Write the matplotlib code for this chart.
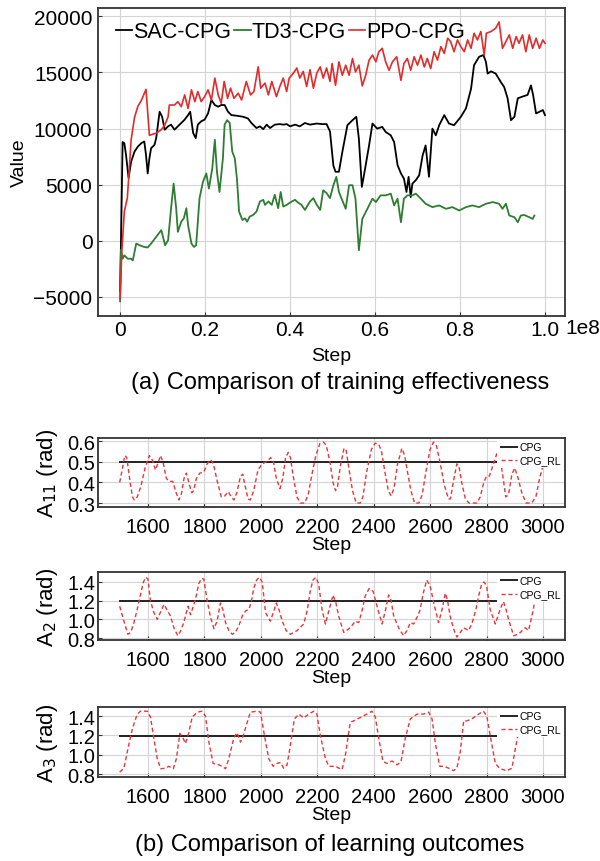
import numpy as np
import matplotlib
matplotlib.use('Agg')
import matplotlib.pyplot as plt

plt.rcParams['font.family'] = ['Liberation Sans', 'DejaVu Sans']

# ---- (a) training curves, step in units of 1e8 ----
sac_x = [0.0, 0.002, 0.006, 0.010, 0.014, 0.020, 0.026, 0.034, 0.042, 0.050, 0.057, 0.061, 0.065, 0.069,
         0.073, 0.081, 0.085, 0.093, 0.099, 0.105, 0.113, 0.120, 0.128, 0.136, 0.144, 0.152, 0.160, 0.165,
         0.172, 0.178, 0.183, 0.191, 0.199, 0.207, 0.215, 0.223, 0.231, 0.238, 0.246, 0.254, 0.262, 0.274,
         0.290, 0.301, 0.309, 0.321, 0.329, 0.337, 0.345, 0.353, 0.364, 0.376, 0.384, 0.392, 0.400, 0.412,
         0.423, 0.435, 0.447, 0.463, 0.475, 0.486, 0.494, 0.502, 0.507, 0.515, 0.523, 0.535, 0.547, 0.556,
         0.562, 0.569, 0.574, 0.586, 0.594, 0.605, 0.617, 0.625, 0.637, 0.645, 0.653, 0.661, 0.668, 0.674,
         0.679, 0.684, 0.688, 0.696, 0.704, 0.712, 0.719, 0.727, 0.735, 0.743, 0.751, 0.763, 0.774, 0.786,
         0.802, 0.814, 0.826, 0.833, 0.845, 0.855, 0.861, 0.865, 0.873, 0.884, 0.896, 0.904, 0.912, 0.920,
         0.928, 0.936, 0.947, 0.959, 0.967, 0.972, 0.979, 0.987, 0.995, 1.000]
sac_y = [-4500, -400, 8800, 8700, 7650, 5600, 7050, 7950, 8400, 8700, 8850, 7650, 6000, 7350,
         8250, 8550, 9150, 11500, 11050, 9900, 10200, 10350, 9900, 10200, 10500, 10800, 11200, 11500,
         9600, 9150, 10350, 10650, 10800, 11350, 12550, 12100, 11950, 12100, 12100, 11500, 11200, 11150,
         11050, 10900, 10500, 10050, 10200, 9950, 10350, 10050, 10350, 10400, 10350, 10400, 10200, 10350,
         10200, 10500, 10350, 10450, 10400, 10400, 9750, 6700, 6150, 6150, 7900, 10300, 10750, 11050,
         9100, 4800, 5850, 8500, 10450, 10000, 10150, 9700, 9400, 8800, 6750, 6000, 5550, 4350,
         5700, 3900, 5100, 5400, 5850, 7600, 8500, 5700, 10000, 9400, 10300, 11200, 10450, 10300,
         11050, 11800, 13550, 15650, 16400, 16550, 15950, 14900, 15100, 14900, 14150, 13700, 12700, 10750,
         11050, 12700, 12850, 13000, 13850, 13000, 11350, 11500, 11650, 11200]

td3_x = [0.0, 0.002, 0.006, 0.010, 0.018, 0.026, 0.030, 0.038, 0.046, 0.057, 0.065, 0.073, 0.085, 0.097,
         0.101, 0.106, 0.113, 0.120, 0.126, 0.132, 0.136, 0.144, 0.150, 0.156, 0.160, 0.168, 0.174, 0.179,
         0.187, 0.195, 0.203, 0.209, 0.217, 0.223, 0.228, 0.234, 0.242, 0.246, 0.252, 0.258, 0.264, 0.270,
         0.275, 0.280, 0.288, 0.294, 0.299, 0.305, 0.313, 0.321, 0.329, 0.337, 0.341, 0.349, 0.357, 0.364,
         0.372, 0.378, 0.384, 0.392, 0.404, 0.412, 0.419, 0.427, 0.435, 0.447, 0.455, 0.463, 0.471, 0.478,
         0.486, 0.494, 0.502, 0.509, 0.515, 0.523, 0.531, 0.539, 0.547, 0.554, 0.562, 0.570, 0.578, 0.586,
         0.594, 0.602, 0.613, 0.625, 0.637, 0.645, 0.653, 0.661, 0.668, 0.676, 0.688, 0.696, 0.708, 0.719,
         0.735, 0.751, 0.767, 0.782, 0.798, 0.814, 0.829, 0.845, 0.861, 0.877, 0.892, 0.900, 0.908, 0.916,
         0.928, 0.936, 0.943, 0.951, 0.963, 0.971, 0.975]
td3_y = [-5400, -800, -1600, -1300, -1600, -1600, -1750, -250, -400, -550, -600, -250, 350, 950,
         350, -400, 50, 2900, 5100, 2900, 800, 1700, 2000, 2900, 1400, -250, -550, -400,
         3800, 5250, 6000, 4650, 6450, 9000, 6150, 4350, 7350, 10350, 10750, 10500, 7950, 7350,
         5550, 2600, 1850, 2000, 1700, 2150, 2300, 2600, 3500, 3650, 3200, 3500, 3200, 4100,
         2900, 4350, 3050, 3200, 3500, 3650, 3400, 3200, 2750, 3500, 3800, 3200, 2750, 4500,
         4250, 3800, 4950, 5700, 4350, 3600, 2850, 4950, 4950, 3750, -850, 1950, 2550, 3150,
         3750, 3450, 4050, 4050, 4200, 3150, 3750, 1650, 3750, 4050, 4050, 4200, 3750, 3300,
         3000, 3150, 2850, 3000, 2700, 3000, 3150, 3000, 3300, 3450, 3300, 2850, 3300, 2250,
         2100, 1650, 2250, 2300, 2100, 1950, 2250]

ppo_x = [0.0, 0.004, 0.010, 0.017, 0.021, 0.026, 0.034, 0.042, 0.050, 0.061, 0.069, 0.085, 0.097, 0.105,
         0.113, 0.116, 0.128, 0.136, 0.144, 0.152, 0.160, 0.168, 0.176, 0.183, 0.191, 0.199, 0.207, 0.215,
         0.223, 0.231, 0.238, 0.245, 0.253, 0.260, 0.268, 0.278, 0.286, 0.297, 0.307, 0.315, 0.325, 0.331,
         0.341, 0.349, 0.357, 0.368, 0.376, 0.384, 0.392, 0.398, 0.408, 0.416, 0.423, 0.431, 0.439, 0.447,
         0.455, 0.463, 0.471, 0.478, 0.486, 0.494, 0.499, 0.507, 0.515, 0.523, 0.531, 0.539, 0.547, 0.554,
         0.562, 0.570, 0.578, 0.586, 0.594, 0.602, 0.609, 0.617, 0.625, 0.633, 0.641, 0.651, 0.661, 0.668,
         0.676, 0.684, 0.692, 0.700, 0.708, 0.716, 0.723, 0.731, 0.739, 0.747, 0.755, 0.763, 0.771, 0.778,
         0.786, 0.794, 0.802, 0.810, 0.818, 0.826, 0.833, 0.841, 0.849, 0.857, 0.862, 0.873, 0.884, 0.892,
         0.900, 0.908, 0.916, 0.924, 0.932, 0.939, 0.947, 0.955, 0.963, 0.971, 0.979, 0.987, 0.995, 1.000]
ppo_y = [-5200, -1000, 2600, 3800, 6000, 9000, 11000, 12000, 12500, 13500, 9400, 9600, 9900, 10300,
         11050, 12100, 12100, 12400, 11950, 13000, 11800, 13450, 12400, 13300, 12400, 12850, 13450, 12550,
         14500, 13000, 12250, 14200, 12700, 13600, 12700, 13150, 12550, 14200, 13000, 13300, 15500, 13600,
         14050, 13000, 14200, 12850, 13750, 14500, 13300, 14500, 14950, 15400, 14500, 15100, 13750, 15250,
         13600, 14950, 15500, 14500, 15400, 14200, 15800, 13850, 15950, 14750, 15650, 14750, 16250, 15050,
         15650, 13800, 14750, 16100, 16550, 15950, 16850, 17150, 15950, 15200, 15950, 16400, 14300, 15800,
         16250, 15200, 16400, 15650, 16550, 15500, 16250, 15350, 16850, 16100, 17300, 16700, 18050, 17750,
         16850, 17900, 17300, 16850, 17900, 17150, 18500, 17900, 18650, 16550, 18500, 18650, 18950, 19500,
         17150, 17750, 18350, 17150, 18200, 17600, 18350, 16850, 18350, 17150, 18050, 17150, 17900, 17600]

step_ticks = [0.0, 0.2, 0.4, 0.6, 0.8, 1.0]
step_labels = ['0', '0.2', '0.4', '0.6', '0.8', '1.0']
value_ticks = [-5000, 0, 5000, 10000, 15000, 20000]

# ---- (b) amplitude curves ----
a11_step = [1500, 1510, 1518, 1525, 1535, 1545, 1552, 1562, 1575, 1590, 1605, 1615, 1627, 1637, 1645, 1655,
            1665, 1675, 1688, 1700, 1710, 1718, 1728, 1736, 1745, 1755, 1762, 1772, 1784, 1798, 1810, 1822,
            1832, 1845, 1860, 1873, 1885, 1895, 1905, 1915, 1928, 1936, 1945, 1955, 1963, 1975, 1990, 2005,
            2020, 2035, 2045, 2055, 2068, 2078, 2088, 2097, 2105, 2115, 2128, 2140, 2155, 2168, 2180, 2195,
            2210, 2222, 2232, 2245, 2256, 2265, 2272, 2282, 2295, 2302, 2312, 2325, 2338, 2352, 2362, 2375,
            2392, 2405, 2418, 2428, 2440, 2452, 2462, 2472, 2485, 2500, 2510, 2520, 2532, 2545, 2560, 2572,
            2585, 2600, 2612, 2622, 2635, 2650, 2665, 2672, 2682, 2695, 2702, 2712, 2725, 2738, 2765, 2778,
            2790, 2800, 2810, 2822, 2838, 2848, 2858, 2868, 2878, 2890, 2900, 2912, 2925, 2940, 2960, 2975,
            2988, 3000]
a11_rl = [0.40, 0.47, 0.53, 0.52, 0.42, 0.33, 0.315, 0.33, 0.38, 0.47, 0.53, 0.51, 0.46, 0.50, 0.53, 0.49,
          0.42, 0.405, 0.405, 0.35, 0.315, 0.34, 0.42, 0.445, 0.40, 0.35, 0.36, 0.42, 0.445, 0.45, 0.49, 0.51,
          0.49, 0.41, 0.33, 0.335, 0.355, 0.33, 0.315, 0.35, 0.43, 0.44, 0.38, 0.32, 0.315, 0.36, 0.46, 0.49,
          0.50, 0.52, 0.50, 0.42, 0.37, 0.42, 0.52, 0.545, 0.52, 0.43, 0.33, 0.30, 0.30, 0.34, 0.43, 0.53,
          0.59, 0.595, 0.58, 0.50, 0.40, 0.36, 0.38, 0.48, 0.565, 0.56, 0.47, 0.36, 0.30, 0.30, 0.33, 0.45,
          0.56, 0.59, 0.585, 0.55, 0.45, 0.36, 0.335, 0.37, 0.49, 0.565, 0.53, 0.45, 0.36, 0.30, 0.30, 0.34,
          0.45, 0.56, 0.595, 0.58, 0.50, 0.39, 0.32, 0.32, 0.40, 0.49, 0.48, 0.40, 0.32, 0.30, 0.30, 0.33,
          0.40, 0.43, 0.43, 0.48, 0.545, 0.52, 0.43, 0.33, 0.34, 0.44, 0.47, 0.42, 0.35, 0.30, 0.30, 0.33,
          0.42, 0.48]

a2_step = [1500, 1515, 1529, 1539, 1550, 1562, 1574, 1584, 1593, 1600, 1609, 1620, 1633, 1645, 1657, 1668,
           1680, 1693, 1706, 1715, 1727, 1742, 1751, 1763, 1772, 1780, 1790, 1798, 1810, 1822, 1834, 1845,
           1857, 1866, 1875, 1887, 1899, 1910, 1922, 1935, 1946, 1958, 1967, 1975, 1985, 1995, 2005, 2017,
           2034, 2045, 2055, 2065, 2076, 2090, 2105, 2129, 2152, 2165, 2175, 2185, 2195, 2205, 2217, 2229,
           2242, 2256, 2266, 2276, 2294, 2317, 2335, 2347, 2358, 2370, 2384, 2398, 2412, 2430, 2442, 2453,
           2462, 2471, 2490, 2506, 2518, 2530, 2542, 2555, 2565, 2575, 2588, 2600, 2615, 2630, 2642, 2654,
           2662, 2671, 2683, 2695, 2719, 2736, 2748, 2762, 2772, 2782, 2791, 2800, 2813, 2831, 2848, 2860,
           2868, 2878, 2896, 2913, 2937, 2949, 2966, 2972, 2980]
a2_rl = [1.14, 0.98, 0.84, 0.86, 0.96, 1.105, 1.27, 1.40, 1.45, 1.43, 1.20, 1.08, 1.0, 1.08, 1.16, 1.10,
         1.035, 0.90, 0.825, 0.87, 0.965, 1.14, 1.05, 1.16, 1.26, 1.38, 1.44, 1.43, 1.20, 1.02, 0.90, 0.98,
         1.175, 1.10, 0.965, 0.88, 0.84, 0.86, 0.93, 1.04, 1.09, 1.105, 1.20, 1.33, 1.42, 1.45, 1.40, 1.07,
         0.98, 1.08, 1.175, 1.10, 0.98, 0.88, 0.84, 0.88, 0.95, 1.10, 1.30, 1.42, 1.45, 1.38, 1.105, 0.95,
         1.10, 1.26, 1.18, 1.035, 0.86, 0.91, 0.98, 0.965, 1.08, 1.25, 1.33, 1.30, 1.14, 0.95, 1.10, 1.26,
         1.20, 1.035, 0.90, 0.825, 0.88, 0.965, 0.95, 1.03, 1.105, 1.27, 1.42, 1.36, 1.15, 0.965, 1.10, 1.28,
         1.20, 1.035, 0.90, 0.81, 0.91, 0.88, 0.95, 1.10, 1.25, 1.37, 1.40, 1.36, 1.105, 0.95, 1.105, 1.19,
         1.12, 1.0, 0.825, 0.84, 0.91, 0.88, 1.105, 1.25, 1.35]

a3_step = [1500, 1515, 1529, 1545, 1562, 1574, 1598, 1609, 1621, 1633, 1645, 1663, 1674, 1690, 1701, 1713,
           1725, 1733, 1745, 1757, 1775, 1792, 1804, 1816, 1831, 1851, 1863, 1875, 1887, 1904, 1916, 1928,
           1937, 1952, 1963, 1987, 1999, 2011, 2028, 2044, 2058, 2070, 2081, 2093, 2105, 2119, 2135, 2152,
           2170, 2188, 2199, 2211, 2229, 2241, 2264, 2288, 2300, 2317, 2329, 2353, 2376, 2394, 2406, 2418,
           2433, 2447, 2465, 2483, 2497, 2512, 2530, 2554, 2577, 2595, 2607, 2618, 2634, 2650, 2666, 2683,
           2695, 2707, 2719, 2730, 2748, 2772, 2789, 2801, 2813, 2831, 2848, 2872, 2890, 2902, 2913, 2930,
           2960, 3000, 3060]
a3_rl = [0.82, 0.86, 1.06, 1.27, 1.42, 1.45, 1.45, 1.39, 1.17, 0.96, 0.855, 0.86, 0.88, 0.855, 0.96, 1.22,
         1.17, 1.115, 1.23, 1.39, 1.44, 1.45, 1.40, 1.13, 0.91, 0.895, 0.88, 0.855, 0.96, 1.17, 1.23, 1.13,
         1.19, 1.335, 1.44, 1.45, 1.44, 1.23, 0.96, 0.88, 0.91, 0.92, 0.86, 0.895, 1.10, 1.37, 1.42, 1.38,
         1.42, 1.45, 1.42, 1.20, 0.96, 0.88, 0.88, 0.845, 1.0, 1.335, 1.35, 1.385, 1.42, 1.45, 1.39, 1.17,
         0.93, 0.91, 0.935, 0.895, 0.93, 1.17, 1.37, 1.42, 1.42, 1.44, 1.37, 1.13, 0.88, 0.88, 0.86, 0.835,
         0.86, 1.03, 1.35, 1.35, 1.37, 1.42, 1.45, 1.40, 1.20, 0.91, 0.855, 0.835, 0.86, 1.06, 1.23, 1.42,
         1.45, 1.45, 1.45]

cpg_span = [1500, 3000]
cpg_levels = [0.5, 1.2, 1.19]
amp_labels = ['A$_{11}$ (rad)', 'A$_{2}$ (rad)', 'A$_{3}$ (rad)']
amp_ticks = [[0.3, 0.4, 0.5, 0.6], [0.8, 1.0, 1.2, 1.4], [0.8, 1.0, 1.2, 1.4]]
amp_ylims = [(0.281, 0.615), (0.779, 1.507), (0.769, 1.493)]
amp_xticks = [1600, 1800, 2000, 2200, 2400, 2600, 2800, 3000]

GRID = '#d4d4d4'
SPINE = '#333333'


def style_axes(ax, size):
    for s in ax.spines.values():
        s.set_color(SPINE)
        s.set_linewidth(1.3)
    ax.grid(True, color=GRID, linewidth=0.8)
    ax.set_axisbelow(True)
    ax.tick_params(direction='in', length=3, color=SPINE, labelsize=size)


fig = plt.figure(figsize=(6, 8.62), dpi=100)

# (a)
ax = fig.add_axes([0.1633, 0.6323, 0.7783, 0.3573])
style_axes(ax, 15)
ax.tick_params(axis='x', pad=3)
ax.tick_params(axis='y', pad=4)
ax.plot(sac_x, sac_y, color='black', lw=1.3, label='SAC-CPG')
ax.plot(td3_x, td3_y, color='#2e7d32', lw=1.3, label='TD3-CPG')
ax.plot(ppo_x, ppo_y, color='#e22b2b', lw=1.2, label='PPO-CPG')
ax.set_xlim(-0.052, 1.047)
ax.set_ylim(-6700, 20750)
ax.set_xticks(step_ticks)
ax.set_xticklabels(step_labels)
ax.set_yticks(value_ticks)
ax.set_xlabel('Step', fontsize=14, labelpad=6)
ax.set_ylabel('Value', fontsize=14, labelpad=4)
ax.legend(loc='upper left', ncol=3, frameon=False, fontsize=15.5, handlelength=0.75,
          handletextpad=0.05, columnspacing=0.15, borderaxespad=0.0, bbox_to_anchor=(0.02, 0.985))
fig.text(0.942, 1 - 329 / 862, '1e8', fontsize=15, ha='left', va='center')
fig.text(0.567, 1 - 383 / 862, '(a) Comparison of training effectiveness', fontsize=17, ha='center', va='center')

# (b)
boxes = [[0.1633, 0.4107, 0.7783, 0.0800],
         [0.1633, 0.2564, 0.7783, 0.0789],
         [0.1633, 0.0974, 0.7783, 0.0812]]
series = [(a11_step, a11_rl), (a2_step, a2_rl), (a3_step, a3_rl)]
for i in range(3):
    ax = fig.add_axes(boxes[i])
    style_axes(ax, 14.5)
    ax.tick_params(axis='x', pad=7)
    ax.tick_params(axis='y', pad=2)
    st, rl = series[i]
    ax.plot(cpg_span, [cpg_levels[i]] * 2, color='#222222', lw=1.4, label='CPG')
    ax.plot(st, rl, color='#e8353b', lw=1.0, ls=(0, (3, 2)), label='CPG_RL')
    ax.set_xlim(1423, 3078)
    ax.set_ylim(*amp_ylims[i])
    ax.set_xticks(amp_xticks)
    ax.set_yticks(amp_ticks[i])
    ax.set_yticklabels(['%.1f' % t for t in amp_ticks[i]])
    ax.set_xlabel('Step', fontsize=14, labelpad=0)
    ax.set_ylabel(amp_labels[i], fontsize=16, labelpad=5)
    leg = ax.legend(loc='upper right', fontsize=7.5, handlelength=1.6, handletextpad=0.2,
                    framealpha=1.0, edgecolor='none', borderpad=0.3, labelspacing=0.3,
                    borderaxespad=0.1, fancybox=False)
    leg.get_frame().set_linewidth(0)

fig.text(0.55, 1 - 845 / 862, '(b) Comparison of learning outcomes', fontsize=17, ha='center', va='center')

fig.savefig('out.png', dpi=100)
